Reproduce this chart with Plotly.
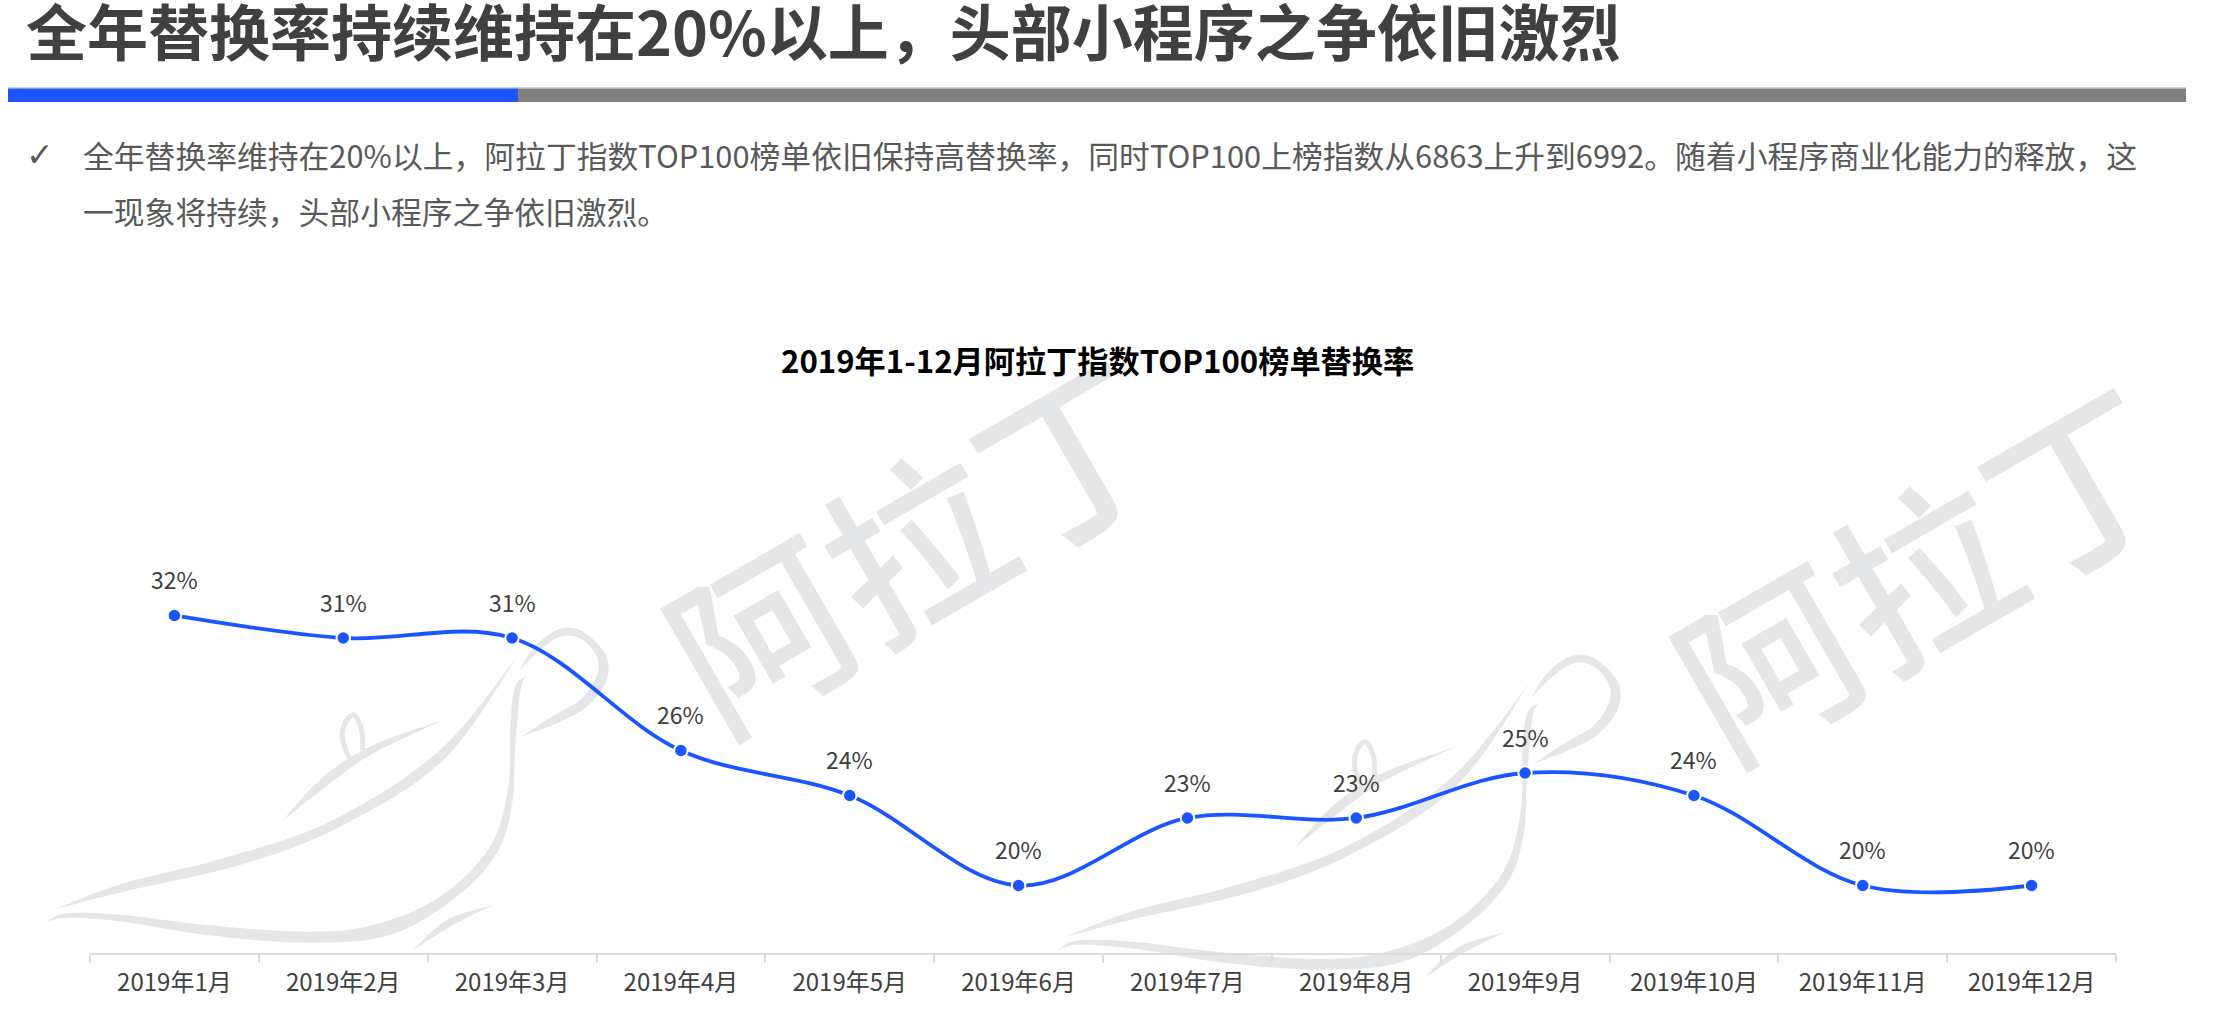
import plotly.graph_objects as go

W, H = 2226, 1036
L, R, T, B = 90, 2116, 300, 953
BLUE = "#1a55ff"
GRAY = "#808080"
WM = "#e5e6e8"
FONT = "Noto Sans CJK SC"

months = ["2019年%d月" % m for m in range(1, 13)]
rates = [32, 31, 31, 26, 24, 20, 23, 23, 25, 24, 20, 20]

headline = "全年替换率持续维持在20%以上，头部小程序之争依旧激烈"
body_line_1 = "全年替换率维持在20%以上，阿拉丁指数TOP100榜单依旧保持高替换率，同时TOP100上榜指数从6863上升到6992。随着小程序商业化能力的释放，这"
body_line_2 = "一现象将持续，头部小程序之争依旧激烈。"
chart_title = "2019年1-12月阿拉丁指数TOP100榜单替换率"
watermark = "阿拉丁"


def px(x):
    return (x - L) / (R - L)


def py(y):
    return (B - y) / (B - T)


def z5(pts):
    return [(40 + a / 3, 620 + b / 3) for a, b in pts]


def z7(pts):
    return [(480 + a / 3, 620 + b / 3) for a, b in pts]


stroke_a = z5([(45, 868), (250, 790), (550, 715), (880, 600), (1200, 390), (1435, 105)]), z5([(1435, 105), (1210, 420), (900, 620), (600, 735), (250, 815), (45, 868)])
stroke_b = z5([(20, 908), (80, 880), (250, 885), (500, 915), (800, 935), (1000, 915), (1200, 830), (1350, 680), (1405, 500), (1412, 300), (1425, 200), (1458, 168)]), z5([(1458, 168), (1440, 220), (1425, 400), (1415, 560), (1370, 700), (1250, 830), (1050, 945), (800, 968), (500, 945), (250, 905), (80, 893), (20, 908)])
stroke_c = z5([(725, 605), (850, 470), (1000, 375), (1210, 300)]), z5([(1210, 300), (1000, 400), (870, 490), (725, 605)])
stroke_e = z5([(1118, 992), (1220, 900), (1360, 855)]), z5([(1360, 855), (1230, 920), (1118, 992)])
stroke_f = z7([(120, 150), (160, 85), (230, 30), (300, 30), (375, 100), (380, 180), (320, 260), (230, 310), (125, 350)]), z7([(125, 350), (215, 290), (300, 240), (350, 170), (350, 110), (300, 55), (240, 50), (180, 90), (120, 150)])
leaf_loop = z5([(930, 420), (908, 360), (915, 310), (942, 285), (965, 330), (968, 390)])


def curve(pts, dx, dy):
    p = [(x + dx, y + dy) for x, y in pts]
    out = []
    for i in range(len(p) - 1):
        p0 = p[max(i - 1, 0)]
        p1 = p[i]
        p2 = p[i + 1]
        p3 = p[min(i + 2, len(p) - 1)]
        c1 = (p1[0] + (p2[0] - p0[0]) / 6, p1[1] + (p2[1] - p0[1]) / 6)
        c2 = (p2[0] - (p3[0] - p1[0]) / 6, p2[1] - (p3[1] - p1[1]) / 6)
        out.append("C %.5f,%.5f %.5f,%.5f %.5f,%.5f" % (px(c1[0]), py(c1[1]), px(c2[0]), py(c2[1]), px(p2[0]), py(p2[1])))
    return "M %.5f,%.5f " % (px(p[0][0]), py(p[0][1])), " ".join(out)


shapes = []
for dx, dy in [(0, 0), (1012, 27)]:
    for outer, inner in [stroke_a, stroke_b, stroke_c, stroke_e, stroke_f]:
        m, c1 = curve(outer, dx, dy)
        _, c2 = curve(inner, dx, dy)
        shapes.append(dict(type="path", xref="paper", yref="paper", layer="below",
                           path=m + c1 + " " + c2 + " Z", fillcolor=WM, line=dict(width=0)))
    m, c1 = curve(leaf_loop, dx, dy)
    shapes.append(dict(type="path", xref="paper", yref="paper", layer="below",
                       path=m + c1, line=dict(color=WM, width=5)))

for x0, x1, color in [(8, 2186, GRAY), (8, 518, BLUE)]:
    shapes.append(dict(type="rect", xref="paper", yref="paper", layer="below",
                       x0=px(x0), x1=px(x1), y0=py(102), y1=py(88.5), fillcolor=color, line=dict(width=0)))
shapes.append(dict(type="line", xref="paper", yref="paper", layer="below",
                   x0=px(8), x1=px(2186), y0=py(88), y1=py(88), line=dict(color="#a6a6a6", width=1)))


def note(text, x, y, size, color, anchor="left", bold=False, angle=0, family=FONT, weight=None):
    return dict(text=text, xref="paper", yref="paper", x=px(x), y=py(y), xanchor=anchor, yanchor="middle",
                showarrow=False, textangle=angle,
                font=dict(family=family, size=size, color=color, weight=weight or ("bold" if bold else "normal")))


annotations = [
    note(watermark, 912, 538, 178, WM, "center", angle=-30, weight=500),
    note(watermark, 1920, 566, 178, WM, "center", angle=-30, weight=500),
    note(headline, 24, 30, 61, "#404040", bold=True),
    note("✓", 24, 154, 33, "#595959", family="DejaVu Sans"),
    note(body_line_1, 81, 154, 30.8, "#595959"),
    note(body_line_2, 81, 210, 30.8, "#595959"),
    note(chart_title, 1097.5, 359, 31.2, "#000000", "center", bold=True),
]
for m, v in zip(months, rates):
    annotations.append(dict(x=m, y=v, xref="x", yref="y", text="%d%%" % v, showarrow=False,
                            yshift=36, xanchor="center", yanchor="middle",
                            font=dict(family=FONT, size=23, color="#404040")))

fig = go.Figure(go.Scatter(
    x=months, y=rates, mode="lines+markers",
    line=dict(color=BLUE, width=3.8, shape="spline", smoothing=1.0),
    marker=dict(color=BLUE, size=13.5, line=dict(color="#ffffff", width=2)),
    hoverinfo="skip", cliponaxis=False,
))
fig.update_layout(
    width=W, height=H, autosize=False, showlegend=False,
    margin=dict(l=L, r=W - R, t=T, b=H - B, pad=0),
    paper_bgcolor="#ffffff", plot_bgcolor="rgba(0,0,0,0)",
    shapes=shapes, annotations=annotations,
    font=dict(family=FONT),
    xaxis=dict(type="category", categoryorder="array", categoryarray=months, range=[-0.5, 11.5],
               showgrid=False, zeroline=False, showline=True, linecolor="#dcdcdc", linewidth=2,
               ticks="outside", tickson="boundaries", ticklen=8, tickwidth=1.5, tickcolor="#dcdcdc",
               ticklabelstandoff=7,
               tickfont=dict(family=FONT, size=24, color="#404040")),
    yaxis=dict(range=[17, 46.02], visible=False, fixedrange=True),
)
fig.write_html("out.html", config=dict(displayModeBar=False),
               post_script="document.body.style.margin='0';document.documentElement.style.overflow='hidden';")
